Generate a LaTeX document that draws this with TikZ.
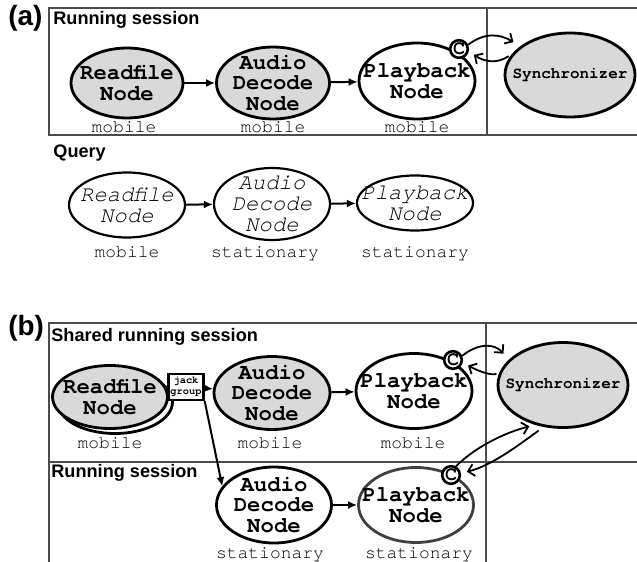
\documentclass[tikz,border=0pt]{standalone}
\usepackage{fontspec}
\setmainfont{Liberation Sans}
\newfontfamily\courfont{TeX Gyre Cursor}
\usetikzlibrary{shapes.geometric,arrows.meta}

\begin{document}
\begin{tikzpicture}[
    x=0.5bp, y=-0.5bp,
    >={Latex[length=4.5bp,width=4bp]},
    proc/.style={
        draw,
        ellipse,
        line width=1.4bp,
        fill=white,
        inner xsep=-9bp,
        inner ysep=-3bp,
        minimum width=58bp,
        minimum height=37bp,
        align=center,
        font=\courfont\bfseries\fontsize{11.2}{10.3}\selectfont
    },
    shared/.style={proc, fill=gray!30},
    query/.style={proc, line width=1.1bp,
        font=\courfont\itshape\fontsize{11.2}{10.6}\selectfont},
    loc/.style={inner sep=0pt, text height=1.3ex, text depth=0.3ex,
        font=\courfont\fontsize{9}{9}\selectfont},
    title/.style={anchor=west, inner sep=0pt,
        font=\bfseries\fontsize{9.1}{10}\selectfont},
    panel/.style={anchor=west, inner sep=0pt,
        font=\bfseries\fontsize{14}{15}\selectfont},
    cpt/.style={draw, circle, line width=1.3bp, fill=white,
        inner sep=0pt, minimum size=8.8bp,
        font=\courfont\bfseries\fontsize{10}{9}\selectfont},
    jackbox/.style={draw, line width=1.2bp, fill=white, inner sep=0pt,
        minimum width=17.5bp, minimum height=13bp, align=center,
        font=\courfont\bfseries\fontsize{5.2}{5.5}\selectfont},
    arr/.style={->, line width=1bp},
    sync/.style={-{Straight Barb[length=3bp,width=6bp]}, line width=0.9bp},
    frame/.style={draw=black!70, line width=0.75bp}
]
    \useasboundingbox (0,0) rectangle (637,562);

    % panel (a)
    \draw[frame] (49,8) rectangle (660,135);
    \draw[frame] (487,8) -- (487,135);
    \node[panel] (pa) at (8,18) {(a)};
    \node[title] (runA) at (53,20) {Running session};

    \node[shared, minimum width=56bp, minimum height=35bp] (rfA) at (127,83)
        {Readfile\\Node};
    \node[shared, minimum width=56.5bp, minimum height=36bp] (adA) at (273,83)
        {Audio\\Decode\\Node};
    \node[proc, minimum height=38bp] (pbA) at (417,81)
        {Playback\\Node};
    \node[cpt] (cA) at (459,49) {C};
    \node[shared, minimum width=65bp, minimum height=42bp, inner xsep=-7bp,
        font=\courfont\bfseries\fontsize{8}{9}\selectfont] (syA) at (570,75)
        {Synchronizer};

    \node[loc] (mA1) at (124,127) {mobile};
    \node[loc] (mA2) at (273,127) {mobile};
    \node[loc] (mA3) at (417,127) {mobile};

    \draw[arr] (rfA) -- (adA);
    \draw[arr] (adA) -- (pbA);
    \draw[sync, shorten >=4bp] (cA.25) .. controls (485,32) and (500,34) .. (syA.150);
    \draw[sync, shorten <=2bp, shorten >=3bp] (syA.160) .. controls (497,64) and (485,62) .. (cA.-15);

    % query
    \node[title] (qry) at (53,153) {Query};
    \node[query, minimum height=32.5bp] (rfQ) at (127,205)
        {Readfile\\Node};
    \node[query, minimum height=36bp] (adQ) at (272,204)
        {Audio\\Decode\\Node};
    \node[query, minimum height=27.5bp] (pbQ) at (415,203)
        {Playback\\Node};

    \node[loc] (mQ1) at (127,252) {mobile};
    \node[loc] (sQ2) at (265,252) {stationary};
    \node[loc] (sQ3) at (415,252) {stationary};

    \draw[arr] (rfQ) -- (adQ);
    \draw[arr] (adQ) -- (pbQ);

    % panel (b)
    \draw[frame] (49,323) rectangle (660,580);
    \draw[frame] (49,462) -- (660,462);
    \draw[frame] (486,323) -- (486,580);
    \node[panel] (pb) at (8,328) {(b)};
    \node[title] (shr) at (51,337) {Shared running session};
    \node[title] (runB) at (51,473) {Running session};

    \node[proc, minimum width=57.5bp, minimum height=31.5bp] (rfBcopy) at (115,402) {};
    \node[shared, minimum width=57.5bp, minimum height=31.5bp] (rfB) at (110,397)
        {Readfile\\Node};
    \node[jackbox] (jack) at (186,387) {jack\\group};
    \node[shared, minimum height=36.5bp] (adB) at (272,393)
        {Audio\\Decode\\Node};
    \node[proc, minimum height=37.5bp] (pbB) at (414,391)
        {Playback\\Node};
    \node[cpt] (cB) at (453,360) {C};
    \node[shared, minimum width=65bp, minimum height=42.5bp, inner xsep=-7bp,
        font=\courfont\bfseries\fontsize{8}{9}\selectfont] (syB) at (563,385)
        {Synchronizer};

    \node[loc] (mB1) at (110,443) {mobile};
    \node[loc] (mB2) at (270,443) {mobile};
    \node[loc] (mB3) at (413,443) {mobile};

    \node[proc, minimum width=57.5bp, minimum height=38bp] (adL) at (274,505)
        {Audio\\Decode\\Node};
    \node[proc, draw=black!75, minimum width=57.5bp, minimum height=37.5bp] (pbL) at (416,505)
        {Playback\\Node};
    \node[cpt] (cL) at (451,475) {C};

    \node[loc] (sL1) at (270,553) {stationary};
    \node[loc] (sL2) at (419,553) {stationary};

    \draw[arr] (jack) -- (adB);
    \draw[arr] (adB) -- (pbB);
    \draw[arr] (jack.south east) -- (adL.160);
    \draw[arr] (adL) -- (pbL);
    \draw[sync, shorten >=4bp] (cB.25) .. controls (480,342) and (495,344) .. (syB.155);
    \draw[sync, shorten <=2bp, shorten >=3bp] (syB.168) .. controls (493,376) and (480,372) .. (cB.-15);
    \draw[sync, shorten >=3bp] (cL.60) .. controls (472,450) and (500,434) .. (syB.235);
    \draw[sync, shorten <=3bp, shorten >=3bp] (syB.245) .. controls (515,448) and (490,466) .. (cL.10);
\end{tikzpicture}
\end{document}
